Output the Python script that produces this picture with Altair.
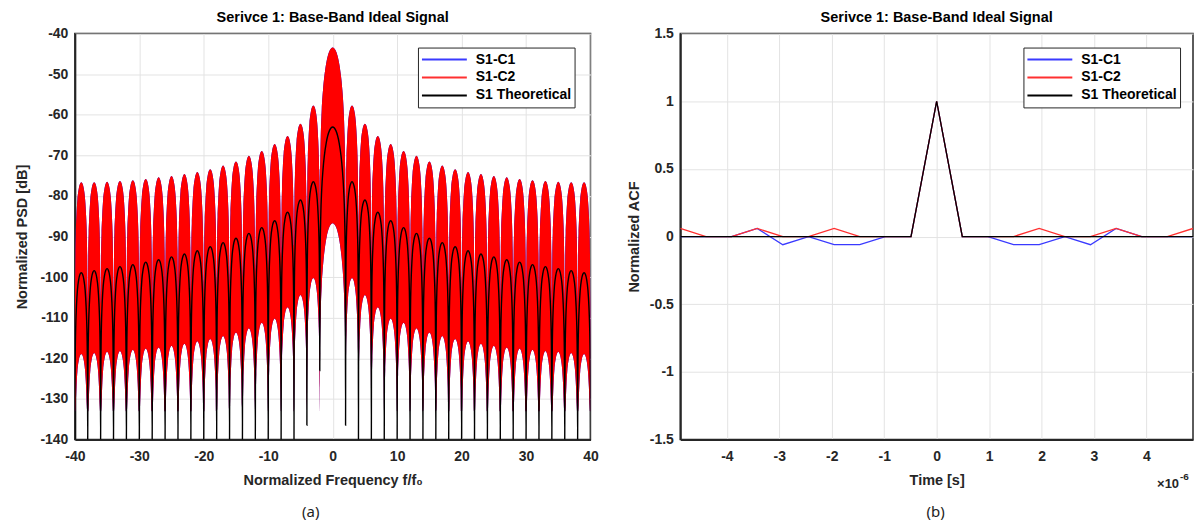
import altair as alt
import numpy as np
import pandas as pd

# ---------------- (a) PSD data ----------------
# side-lobe centres (f/f0, odd values, mirrored to negative side); main lobe at 0
SIDE_CENTRES = [3, 5, 7, 9, 11, 13, 15, 17, 19, 21, 23, 25, 27, 29, 31, 33, 35, 37, 39]
# theoretical (black) lobe peaks, dB
THEO_MAIN = -63.0
THEO_SIDE = [-76.5, -81.0, -84.0, -86.1, -87.8, -89.2, -90.4, -91.5, -92.5, -93.5,
             -94.3, -95.0, -95.7, -96.3, -96.9, -97.4, -97.9, -98.4, -98.9]
# simulated (red / blue) upper envelope lobe peaks, dB
SIM_UP_MAIN = -43.4
SIM_UP_SIDE = [-57.7, -62.2, -65.2, -67.2, -68.9, -70.1, -71.5, -72.5, -73.4, -74.1,
               -74.6, -75.1, -75.4, -75.8, -76.1, -76.3, -76.5, -76.6, -76.6]
# simulated lower envelope lobe tops, dB
SIM_LOW_MAIN = -86.7
SIM_LOW_SIDE = [-100.2, -104.4, -107.4, -110.2, -111.2, -112.6, -113.6, -114.5, -115.2, -115.8,
                -116.4, -116.9, -117.3, -117.6, -117.9, -118.2, -118.4, -118.7, -118.9]
# lobe shape: offset from lobe centre and drop below lobe peak (dB)
SIDE_OFFSET = [0.0, 0.2, 0.4, 0.6, 0.75, 0.85, 0.92, 0.97, 1.0]
MAIN_OFFSET = [0.0, 0.5, 1.0, 1.3, 1.5, 1.7, 1.85, 1.95, 2.0]
MAIN_DROP = [0.0, 0.9, 3.9, 7.2, 10.5, 15.4, 22.0, 32.0, 60.0]
SIDE_DROP = [0.0, 0.4, 1.7, 4.3, 8.3, 12.6, 18.0, 27.0, 60.0]
UP_NOTCH_MAX = 30.0
LOW_FLOOR = -133.0
AXIS_FLOOR = -140.0

# ---------------- (b) ACF data ----------------
T_US = [-4.888, -4.399, -3.910, -3.422, -2.933, -2.444, -1.955, -1.466, -0.978, -0.489, 0.0,
        0.489, 0.978, 1.466, 1.955, 2.444, 2.933, 3.422, 3.910, 4.399, 4.888]
ACF_C1 = [0, 0, 0, 0.06, -0.06, 0, -0.06, -0.06, 0, 0, 1,
          0, 0, -0.06, -0.06, 0, -0.06, 0.06, 0, 0, 0]
ACF_C2 = [0.06, 0, 0, 0.06, 0, 0, 0.06, 0, 0, 0, 1,
          0, 0, 0, 0.06, 0, 0, 0.06, 0, 0, 0.06]
ACF_TH = [0, 0, 0, 0, 0, 0, 0, 0, 0, 0, 1,
          0, 0, 0, 0, 0, 0, 0, 0, 0, 0]

SERIES = ["S1-C1", "S1-C2", "S1 Theoretical"]
COLORS = ["#3a3aff", "#ff3030", "#000000"]

# ---------- build PSD table ----------
lobes = []
for c, b, u, l in zip(SIDE_CENTRES[::-1], THEO_SIDE[::-1], SIM_UP_SIDE[::-1], SIM_LOW_SIDE[::-1]):
    lobes.append((-c, b, u, l, SIDE_OFFSET, SIDE_DROP))
lobes.append((0, THEO_MAIN, SIM_UP_MAIN, SIM_LOW_MAIN, MAIN_OFFSET, MAIN_DROP))
for c, b, u, l in zip(SIDE_CENTRES, THEO_SIDE, SIM_UP_SIDE, SIM_LOW_SIDE):
    lobes.append((c, b, u, l, SIDE_OFFSET, SIDE_DROP))

rows = []
for i, (c, b, u, l, offs, drops) in enumerate(lobes):
    pts = [(-o, d) for o, d in zip(offs[::-1], drops[::-1])] + [(o, d) for o, d in zip(offs[1:], drops[1:])]
    if i < len(lobes) - 1:
        pts = pts[:-1]
    for o, d in pts:
        rows.append({
            "f": c + o,
            "theo": max(b - d, AXIS_FLOOR),
            "up": u - min(d, UP_NOTCH_MAX),
            "low": max(l - d, LOW_FLOOR),
            "series": "S1 Theoretical",
        })
psd = pd.DataFrame(rows)

acf = pd.DataFrame(
    [{"t": t, "acf": v, "series": "S1-C1"} for t, v in zip(T_US, ACF_C1)]
    + [{"t": t, "acf": v, "series": "S1-C2"} for t, v in zip(T_US, ACF_C2)]
    + [{"t": t, "acf": v, "series": "S1 Theoretical"} for t, v in zip(T_US, ACF_TH)]
)

FONT = "Liberation Sans"
W, H = 517, 407
WR = 514
LBL = "datum.value + ''"


def legend():
    return alt.Legend(
        title=None, orient="none", legendX=344, legendY=14,
        symbolType="stroke", symbolSize=2025, symbolStrokeWidth=2,
        clipHeight=18, labelFontSize=14, labelFont=FONT, labelFontWeight="bold",
        labelColor="#000", fillColor="white", strokeColor="#262626",
        padding=3, labelOffset=8, rowPadding=0,
    )


color_scale = alt.Scale(domain=SERIES, range=COLORS)
title_params = dict(fontSize=14.5, fontWeight="bold", font=FONT, color="#000",
                    offset=1, anchor="middle", frame="group")

# ---------- left panel ----------
xa = alt.X("f:Q", scale=alt.Scale(domain=[-40, 40], nice=False),
           axis=alt.Axis(values=list(range(-40, 41, 10)), labelExpr=LBL, title="Normalized Frequency f/f₀"))
ya = alt.Y("up:Q", scale=alt.Scale(domain=[-140, -40], nice=False),
           axis=alt.Axis(values=list(range(-140, -39, 10)), labelExpr=LBL, title="Normalized PSD [dB]"))

base_l = alt.Chart(psd)
blue_area = base_l.mark_area(color="#0000ff", interpolate="monotone", clip=True).encode(
    x=xa, y=ya, y2="low:Q")
red_area = base_l.mark_area(color="#ff0000", interpolate="monotone", clip=True).encode(
    x=xa, y=ya, y2="low:Q")
theo_line = base_l.mark_line(strokeWidth=1.4, interpolate="monotone", clip=True).encode(
    x=xa,
    y=alt.Y("theo:Q", scale=alt.Scale(domain=[-140, -40], nice=False)),
    color=alt.Color("series:N", scale=color_scale, legend=legend()),
)
lbl_a = alt.Chart(pd.DataFrame({"t": ["(a)"]})).mark_text(
    font="Noto Sans", fontSize=15, color="#222").encode(
    text="t:N", x=alt.value(W / 2 - 22), y=alt.value(H + 73))

left = alt.layer(blue_area, red_area, theo_line, lbl_a).properties(
    width=W, height=H,
    title=alt.TitleParams("Serivce 1: Base-Band Ideal Signal", **title_params))

# ---------- right panel ----------
xb = alt.X("t:Q", scale=alt.Scale(domain=[-4.888, 4.888], nice=False),
           axis=alt.Axis(values=list(range(-4, 5)), labelExpr=LBL, title="Time [s]"))
yb = alt.Y("acf:Q", scale=alt.Scale(domain=[-1.5, 1.5], nice=False),
           axis=alt.Axis(values=[-1.5, -1, -0.5, 0, 0.5, 1, 1.5], labelExpr=LBL,
                         title="Normalized ACF", titlePadding=8))

layers_r = []
for s in SERIES:
    layers_r.append(
        alt.Chart(acf).transform_filter(alt.datum.series == s).mark_line(strokeWidth=1.3, clip=True).encode(
            x=xb, y=yb, color=alt.Color("series:N", scale=color_scale, legend=legend()))
    )
lbl_b = alt.Chart(pd.DataFrame({"t": ["(b)"]})).mark_text(
    font="Noto Sans", fontSize=15, color="#222").encode(
    text="t:N", x=alt.value(256), y=alt.value(H + 73))
exp_txt = alt.Chart(pd.DataFrame({"t": ["×10"]})).mark_text(
    font=FONT, fontSize=13, fontWeight="bold", color="#262626", align="left").encode(
    text="t:N", x=alt.value(478), y=alt.value(H + 45))
exp_sup = alt.Chart(pd.DataFrame({"t": ["-6"]})).mark_text(
    font=FONT, fontSize=10, fontWeight="bold", color="#262626", align="left").encode(
    text="t:N", x=alt.value(501), y=alt.value(H + 38))

right = alt.layer(*layers_r, lbl_b, exp_txt, exp_sup).properties(
    width=WR, height=H,
    title=alt.TitleParams("Serivce 1: Base-Band Ideal Signal", **title_params))

chart = alt.hconcat(left, right, spacing=26).resolve_scale(
    color="independent").resolve_legend(color="independent").properties(
    padding={"left": 6, "top": 0, "right": 0, "bottom": 0}, background="white"
).configure_view(
    stroke="#262626", strokeWidth=1.5
).configure_axis(
    labelFont=FONT, labelFontSize=14, labelFontWeight="bold", labelColor="#262626",
    titleFont=FONT, titleFontSize=14.5, titleFontWeight="bold", titleColor="#262626",
    gridColor="#e3e3e3", gridWidth=1, domainColor="#262626", domainWidth=2,
    ticks=False, labelPadding=7, titlePadding=6,
).configure_axisX(
    labelPadding=10, titlePadding=10, labelFlush=False
).configure_axisY(
    titlePadding=10
)

chart.save("out.html", embed_options={"renderer": "svg", "actions": False})
